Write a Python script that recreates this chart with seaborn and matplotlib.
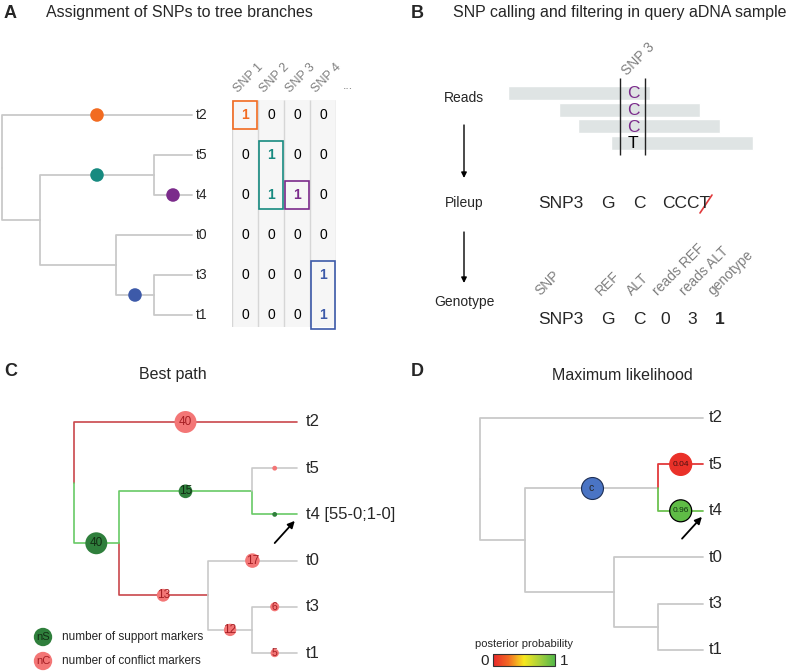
import numpy as np
import pandas as pd
import matplotlib
matplotlib.use("Agg")
import matplotlib.pyplot as plt
import matplotlib.patches as mpatches
from matplotlib.colors import ListedColormap, LinearSegmentedColormap, Normalize
from matplotlib.cm import ScalarMappable
import seaborn as sns

sns.set_style("white")
plt.rcParams["font.family"] = ["Liberation Sans", "DejaVu Sans"]

W, H = 799, 671

# ------------------------------------------------------------------
# data

# tree shared by panels A, C, D (tips top to bottom)
tips = ["t2", "t5", "t4", "t0", "t3", "t1"]
edge_child = ["t2", "n1", "n2", "t5", "t4", "n3", "t0", "n4", "t3", "t1"]
edge_parent = ["root", "root", "n1", "n2", "n2", "n1", "n3", "n3", "n4", "n4"]
inner_nodes = ["root", "n1", "n2", "n3", "n4"]
inner_depth = [0.0, 0.2, 0.8, 0.6, 0.8]

# A: SNP assignment
snp_names = ["SNP 1", "SNP 2", "SNP 3", "SNP 4"]
snp_branch = ["t2", "n2", "t4", "n4"]
snp_colors = ["#f26b21", "#178a80", "#7b2b8b", "#3d5aa9"]
snp_matrix = [
    [1, 0, 0, 0],
    [0, 1, 0, 0],
    [0, 1, 1, 0],
    [0, 0, 0, 0],
    [0, 0, 0, 1],
    [0, 0, 0, 1],
]

# B: reads at SNP 3 (positions relative to the SNP)
read_start = [-125, -74, -55, -22]
read_end = [17, 67, 87, 120]
read_base = ["C", "C", "C", "T"]
pileup_vals = ["SNP3", "G", "C", "CCCT"]
geno_cols = ["SNP", "REF", "ALT", "reads REF", "reads ALT", "genotype"]
geno_vals = ["SNP3", "G", "C", "0", "3", "1"]

# C: best path, per edge (same order as edge_child)
path_state = ["conflict", "support", "support", "none", "support",
              "conflict", "none", "none", "none", "none"]
marker_kind = ["conflict", "support", "support", "conflict", "support",
               "conflict", "conflict", "conflict", "conflict", "conflict"]
marker_count = [40, 40, 15, 1, 1, 13, 17, 12, 6, 5]
best_label = "t4 [55-0;1-0]"

# D: maximum likelihood
ml_state = ["none", "none", "none", "low", "high",
            "none", "none", "none", "none", "none"]
ml_branch = ["t5", "t4"]
ml_prob = [0.04, 0.96]
ml_clade_branch = "n2"

# ------------------------------------------------------------------

GREY = "#c9c9c9"
fig = plt.figure(figsize=(W / 100, H / 100), dpi=100)

canvas = fig.add_axes([0, 0, 1, 1])
canvas.set_xlim(0, W)
canvas.set_ylim(H, 0)
canvas.axis("off")


def px_axes(x0, y0, x1, y1):
    return fig.add_axes([x0 / W, 1 - y1 / H, (x1 - x0) / W, (y1 - y0) / H])


def tree_layout():
    depth = dict(zip(inner_nodes, inner_depth))
    depth.update({t: 1.0 for t in tips})
    ypos = {t: float(i) for i, t in enumerate(tips)}
    children = {}
    for c, p in zip(edge_child, edge_parent):
        children.setdefault(p, []).append(c)

    def gety(n):
        if n not in ypos:
            ypos[n] = float(np.mean([gety(c) for c in children[n]]))
        return ypos[n]

    gety("root")
    return depth, ypos


depth, ypos = tree_layout()


def edge_frame(states):
    rows = []
    for k, (c, p, s) in enumerate(zip(edge_child, edge_parent, states)):
        pts = [(depth[p], ypos[p]), (depth[p], ypos[c]), (depth[c], ypos[c])]
        for j, (x, y) in enumerate(pts):
            rows.append(dict(edge=k, step=j, x=x, y=y, state=s))
    return pd.DataFrame(rows)


def mid(child):
    p = edge_parent[edge_child.index(child)]
    return (depth[p] + depth[child]) / 2, ypos[child]


def tree_axes(x0, x1, y0, y1):
    """x0/x1: px of depth 0/1, y0/y1: px of first/last tip."""
    dx, dy = x1 - x0, (y1 - y0) / 5
    ax = px_axes(x0 - 0.2 * dx, y0 - 0.7 * dy, x1 + 0.2 * dx, y1 + 0.7 * dy)
    ax.set_xlim(-0.2, 1.2)
    ax.set_ylim(5.7, -0.7)
    ax.axis("off")
    return ax


def draw_edges(ax, states, palette, lw=1.3):
    df = edge_frame(states)
    pal = {k: v for k, v in palette.items() if k in set(df["state"])}
    sns.lineplot(data=df, x="x", y="y", units="edge", estimator=None,
                 sort=False, hue="state", palette=pal, legend=False,
                 linewidth=lw, ax=ax)


# ------------------------------------------------------------------
# titles

for lx, ly, letter in [(4, 13, "A"), (411, 13, "B"), (4, 372, "C"), (411, 372, "D")]:
    canvas.text(lx, ly, letter, fontsize=13, fontweight="bold", va="center")
canvas.text(46, 13, "Assignment of SNPs to tree branches", fontsize=11.5, va="center")
canvas.text(453, 13, "SNP calling and filtering in query aDNA sample", fontsize=11.5, va="center")
canvas.text(173, 374, "Best path", fontsize=11.5, va="center", ha="center")
canvas.text(622, 375, "Maximum likelihood", fontsize=11.5, va="center", ha="center")

# ------------------------------------------------------------------
# A: tree + SNP matrix

ax_a = tree_axes(2, 192, 115, 315)
draw_edges(ax_a, ["none"] * len(edge_child), {"none": GREY})
dots = pd.DataFrame({"snp": snp_names,
                     "x": [mid(b)[0] for b in snp_branch],
                     "y": [mid(b)[1] for b in snp_branch]})
sns.scatterplot(data=dots, x="x", y="y", hue="snp",
                palette=dict(zip(snp_names, snp_colors)), s=95,
                edgecolor="none", legend=False, zorder=3, ax=ax_a)
for t in tips:
    ax_a.text(1.02, ypos[t], t, fontsize=10, va="center", ha="left")

ax_m = px_axes(232, 100, 336, 327)
mat = np.array(snp_matrix)
sns.heatmap(mat, ax=ax_m, cmap=ListedColormap(["#f6f6f6"]), cbar=False,
            annot=True, fmt="d", annot_kws={"size": 10},
            xticklabels=False, yticklabels=False)
ax_m.set_ylim(5.8, 0.125)
ax_m.set_xlim(0, 4)
for txt, (i, j) in zip(ax_m.texts, np.ndindex(mat.shape)):
    if mat[i, j] == 1:
        txt.set_color(snp_colors[j])
        txt.set_fontweight("bold")
    else:
        txt.set_color("black")
ax_m.vlines(range(5), 0.125, 5.8, color="#d6d6d6", lw=1)
for j in range(mat.shape[1]):
    rows = np.where(mat[:, j] == 1)[0]
    r0, r1 = rows.min(), rows.max()
    ax_m.add_patch(mpatches.Rectangle((j + 0.04, r0 + 0.15), 0.92,
                                      r1 - r0 + 0.7, fill=False,
                                      edgecolor=snp_colors[j], lw=1.2,
                                      clip_on=False, zorder=4))
    ax_m.text(j + 0.25, -0.05, snp_names[j], rotation=45,
              rotation_mode="anchor", ha="left", va="baseline",
              fontsize=9, color="#7f7f7f")
ax_m.text(4.25, -0.15, "...", fontsize=9, color="#7f7f7f", va="baseline")

# ------------------------------------------------------------------
# B: reads, pileup, genotype

ax_r = px_axes(500, 78, 760, 157)
ax_r.set_xlim(-133, 127)
ax_r.set_ylim(3.83, -0.9)
ax_r.axis("off")
idx = np.arange(len(read_start))
ax_r.barh(idx, np.array(read_end) - np.array(read_start), left=read_start,
          height=0.84, color="#dfe4e4")
ax_r.vlines([-13, 12], -0.9, 3.73, color="#222222", lw=1)
for i, b in enumerate(read_base):
    ax_r.text(0, i + 0.05, b, ha="center", va="center", fontsize=12.5,
              color="#7b2b8b" if b == "C" else "black")
canvas.text(627, 76, "SNP 3", rotation=45, rotation_mode="anchor",
            ha="left", va="baseline", fontsize=10, color="#7f7f7f")

for label, y in [("Reads", 98), ("Pileup", 203), ("Genotype", 302)]:
    canvas.text(464, y, label, fontsize=10, ha="center", va="center")
for y0, y1 in [(125, 178), (232, 283)]:
    canvas.annotate("", xy=(464, y1), xytext=(464, y0),
                    arrowprops=dict(arrowstyle="-|>", color="black", lw=1,
                                    mutation_scale=8, shrinkA=0, shrinkB=0))

pile_x = [561, 608, 639, 686]
for x, v in zip(pile_x, pileup_vals):
    canvas.text(x, 204, v, fontsize=12.5, ha="center", va="center")
canvas.plot([700, 712], [213, 195], color="#e0393b", lw=1.2)

geno_x = [561, 608, 639, 665, 692, 720]
for k, (x, c, v) in enumerate(zip(geno_x, geno_cols, geno_vals)):
    hx = 540 if k == 0 else x - 7
    canvas.text(hx, 296, c, rotation=45, rotation_mode="anchor", ha="left",
                va="baseline", fontsize=10, color="#7f7f7f")
    canvas.text(x, 319, v, fontsize=12.5, ha="center", va="center",
                fontweight="bold" if c == "genotype" else "normal")

# ------------------------------------------------------------------
# C: best path

ax_c = tree_axes(74, 297, 422, 653)
draw_edges(ax_c, path_state, {"none": GREY, "conflict": "#c9474b",
                              "support": "#68c966"}, lw=1.2)
mk = pd.DataFrame({"x": [mid(c)[0] for c in edge_child],
                   "y": [mid(c)[1] for c in edge_child],
                   "kind": marker_kind, "count": marker_count})
sns.scatterplot(data=mk, x="x", y="y", hue="kind",
                palette={"support": "#2f7f3c", "conflict": "#f37676"},
                size="count", sizes=(12, 250), size_norm=(1, 40),
                edgecolor="none", legend=False, zorder=3, ax=ax_c)
for _, r in mk.iterrows():
    if r["count"] >= 5:
        ax_c.text(r["x"], r["y"], str(r["count"]),
                  fontsize=8.5 if r["count"] >= 10 else 7.5,
                  ha="center", va="center", zorder=4,
                  color="#122e14" if r["kind"] == "support" else "#a51f24")
for t in tips:
    ax_c.text(1.04, ypos[t], best_label if t == "t4" else t, fontsize=12,
              va="center", ha="left")
ax_c.annotate("", xy=(0.99, ypos["t4"] + 0.14), xytext=(0.9, ypos["t4"] + 0.62),
              arrowprops=dict(arrowstyle="-|>", color="black", lw=1.3,
                              mutation_scale=10, shrinkA=0, shrinkB=0))

leg = pd.DataFrame({"x": [43, 43], "y": [637, 661],
                    "kind": ["support", "conflict"]})
sns.scatterplot(data=leg, x="x", y="y", hue="kind",
                palette={"support": "#2f7f3c", "conflict": "#f37676"},
                s=175, edgecolor="none", legend=False, ax=canvas)
canvas.set_xlim(0, W)
canvas.set_ylim(H, 0)
canvas.axis("off")
for y, sym, col, txt in [(637, "nS", "#122e14", "number of support markers"),
                         (661, "nC", "#a51f24", "number of conflict markers")]:
    canvas.text(43, y, sym, fontsize=8, ha="center", va="center", color=col)
    canvas.text(62, y, txt, fontsize=8.5, ha="left", va="center")

# ------------------------------------------------------------------
# D: maximum likelihood

pp_cmap = LinearSegmentedColormap.from_list(
    "pp", ["#e8262a", "#f26a23", "#f7e81e", "#a8d03c", "#52b848"])
ax_d = tree_axes(480, 703, 418, 650)
draw_edges(ax_d, ml_state, {"none": GREY, "low": "#e2393a", "high": "#6cc24f"})

cx, cy = mid(ml_clade_branch)
ax_d.scatter([cx], [cy], s=250, color="#4a74c4", edgecolor="#1e2f55",
             lw=0.8, zorder=3)
ax_d.text(cx, cy, "c", fontsize=7.5, ha="center", va="center", zorder=4)

pp = pd.DataFrame({"x": [mid(b)[0] for b in ml_branch],
                   "y": [mid(b)[1] for b in ml_branch], "pp": ml_prob})
sns.scatterplot(data=pp, x="x", y="y", hue="pp", palette=pp_cmap,
                hue_norm=(0, 1), s=250, legend=False, zorder=3, ax=ax_d,
                edgecolor=[pp_cmap(p) if p < 0.5 else "black" for p in ml_prob],
                linewidth=0.9)
for _, r in pp.iterrows():
    ax_d.text(r["x"], r["y"], f"{r['pp']:.2f}", fontsize=6, ha="center",
              va="center", zorder=4, color="#4a1010" if r["pp"] < 0.5 else "#123312")
for t in tips:
    ax_d.text(1.025, ypos[t], t, fontsize=12, va="center", ha="left")
ax_d.annotate("", xy=(0.995, ypos["t4"] + 0.13), xytext=(0.906, ypos["t4"] + 0.6),
              arrowprops=dict(arrowstyle="-|>", color="black", lw=1.3,
                              mutation_scale=10, shrinkA=0, shrinkB=0))

cax = px_axes(493, 654, 555, 666)
cb = fig.colorbar(ScalarMappable(norm=Normalize(0, 1), cmap=pp_cmap),
                  cax=cax, orientation="horizontal")
cb.set_ticks([])
cb.outline.set_edgecolor("#333333")
cb.outline.set_linewidth(0.8)
canvas.text(524, 644, "posterior probability", fontsize=8, ha="center", va="center")
canvas.text(485, 661, "0", fontsize=11, ha="center", va="center")
canvas.text(564, 661, "1", fontsize=11, ha="center", va="center")

fig.savefig("out.png", dpi=100)
